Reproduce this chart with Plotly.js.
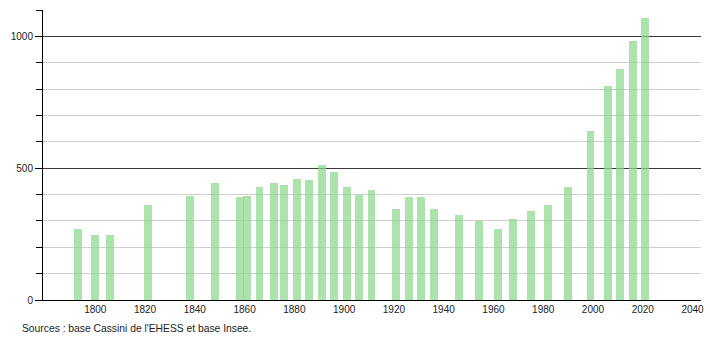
<!DOCTYPE html>
<html>
<head>
<meta charset="utf-8">
<script src="https://cdn.plot.ly/plotly-3.0.1.min.js"></script>
<style>html,body{margin:0;padding:0;background:#fff;}#chart{width:710px;height:340px;}</style>
</head>
<body>
<div id="chart"></div>
<script>
const years = [1793,1800,1806,1821,1838,1848,1858,1861,1866,1872,1876,1881,1886,1891,1896,1901,1906,1911,1921,1926,1931,1936,1946,1954,1962,1968,1975,1982,1990,1999,2006,2011,2016,2021];
const population = [269,246,248,362,394,445,390,393,430,443,436,459,454,511,484,430,398,418,344,389,389,347,322,300,271,307,338,359,430,640,811,878,982,1068];
const xTicks = [1800,1820,1840,1860,1880,1900,1920,1940,1960,1980,2000,2020,2040];
const majorTicks = [0,500,1000];
const sourceText = "Sources : base Cassini de l'EHESS et base Insee.";

const font = {family: '"Liberation Sans", Arial, sans-serif', size: 10, color: '#222'};

const trace = {
  type: 'bar',
  x: years,
  y: population,
  width: 3.2,
  marker: {color: 'rgba(140,215,140,0.72)', line: {width: 0}},
  hoverinfo: 'x+y'
};
const trace2 = {type:'scatter', x:[years[0]], y:[0], yaxis:'y2', mode:'markers', marker:{opacity:0}, showlegend:false, hoverinfo:'skip'};

const layout = {
  width: 710, height: 340,
  margin: {l: 43, r: 9, t: 10, b: 40},
  paper_bgcolor: '#fff', plot_bgcolor: '#fff',
  font: font,
  showlegend: false,
  bargap: 0,
  xaxis: {
    range: [1779.0, 2043.4],
    tickmode: 'array', tickvals: xTicks,
    showgrid: false, zeroline: false,
    showline: true, linecolor: '#000', linewidth: 1,
    ticks: '', tickfont: font
  },
  yaxis: {
    range: [0, 1100],
    dtick: 100,
    showgrid: true, gridcolor: '#cfcfcf', gridwidth: 1,
    zeroline: false,
    showline: true, linecolor: '#000', linewidth: 1,
    ticks: 'outside', ticklen: 6, tickcolor: '#000',
    showticklabels: false
  },
  yaxis2: {
    overlaying: 'y', side: 'left',
    range: [0, 1100],
    tickmode: 'array', tickvals: majorTicks,
    showgrid: true, gridcolor: '#3a3a3a', gridwidth: 1,
    zeroline: false, showline: false,
    ticks: 'outside', ticklen: 7, tickcolor: '#000',
    tickfont: font
  },
  annotations: [{
    text: sourceText, xref: 'paper', yref: 'paper',
    x: -0.035, y: -0.097, xanchor: 'left', yanchor: 'middle',
    showarrow: false, font: Object.assign({}, font, {size: 10.3})
  }]
};

Plotly.newPlot('chart', [trace, trace2], layout, {staticPlot: true, displayModeBar: false});
</script>
</body>
</html>
